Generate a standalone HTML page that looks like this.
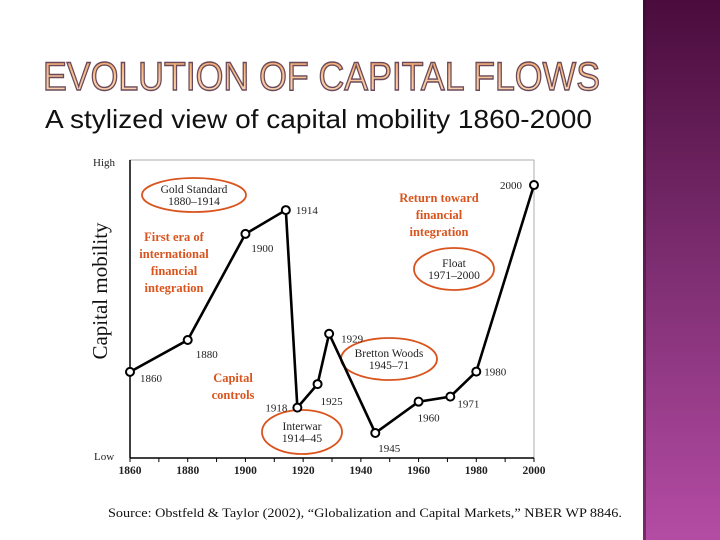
<!DOCTYPE html>
<html><head><meta charset="utf-8"><style>
html,body{margin:0;padding:0;width:720px;height:540px;overflow:hidden;background:#fff}
svg{display:block}
</style></head><body>
<svg id="s" width="720" height="540" xmlns="http://www.w3.org/2000/svg">
<defs>
<linearGradient id="pg" x1="0" y1="0" x2="0" y2="1">
<stop offset="0" stop-color="#4a0c3c"/><stop offset="0.5" stop-color="#7e2e72"/><stop offset="1" stop-color="#b44ca4"/>
</linearGradient>
<linearGradient id="tg" x1="0" y1="0" x2="0" y2="1">
<stop offset="0" stop-color="#f0a060"/><stop offset="0.5" stop-color="#f8c496"/><stop offset="1" stop-color="#fcdcc0"/>
</linearGradient>
</defs>
<rect x="643" y="0" width="77" height="540" fill="url(#pg)"/>
<rect x="643" y="0" width="3" height="540" fill="#3a0a30" opacity="0.5"/>
<text x="43" y="90" font-family="Liberation Sans, sans-serif" font-size="40" textLength="557" lengthAdjust="spacingAndGlyphs" fill="url(#tg)" stroke="#6a4a5a" stroke-width="1.4">EVOLUTION OF CAPITAL FLOWS</text>
<text x="45" y="128" font-family="Liberation Sans, sans-serif" font-size="26" textLength="547" lengthAdjust="spacingAndGlyphs" fill="#111">A stylized view of capital mobility 1860-2000</text>
<g id="chart" font-family="Liberation Serif, serif"></g>
<text x="108" y="517" font-family="Liberation Serif, serif" font-size="12.5" textLength="514" lengthAdjust="spacingAndGlyphs" fill="#111">Source:  Obstfeld  &amp; Taylor (2002), “Globalization and Capital Markets,” NBER WP 8846.</text>
</svg>
<script>
const years = [1860,1880,1900,1914,1918,1925,1929,1945,1960,1971,1980,2000];
const mobility = [28.9,39.6,75.2,83.2,16.9,24.8,41.7,8.4,18.9,20.6,29,91.6];
const xTicks = [1860,1880,1900,1920,1940,1960,1980,2000];
const labelDx = [10,8,6,10,-10,3,12,3,-1,7,8,-12];
const labelDy = [10,18,18,4,4,21,9,19,20,11,4,4];
const labelAnchor = ['start','start','start','start','end','start','start','start','start','start','start','end'];

const L=130,R=534,T=160,B=458;
const xs=y=>L+(y-1860)/(2000-1860)*(R-L);
const ys=v=>B-v/100*(B-T);
const g=document.getElementById('chart');
const NS='http://www.w3.org/2000/svg';
function mk(tag,attrs,txt){const e=document.createElementNS(NS,tag);for(const k in attrs)e.setAttribute(k,attrs[k]);if(txt!==undefined)e.textContent=txt;g.appendChild(e);return e;}

let e=mk('rect',{x:L,y:T,width:R-L,height:B-T,fill:'none',stroke:'#999','stroke-width':0.8});


e=mk('line',{x1:L,y1:B,x2:R,y2:B,stroke:'#000','stroke-width':1.5});


e=mk('line',{x1:L,y1:T,x2:L,y2:B,stroke:'#000','stroke-width':1.5});


for(let y=1860;y<=2000;y+=10){
  e=mk('line',{x1:xs(y),y1:B,x2:xs(y),y2:B+4,stroke:'#000','stroke-width':1});
  
  
}
xTicks.forEach(t=>{
  e=mk('text',{x:xs(t),y:B+16,'font-size':11.5,'font-weight':'bold','text-anchor':'middle',fill:'#222'},String(t));
  
  
});
e=mk('text',{x:93,y:166,'font-size':11,fill:'#222'},'High');


e=mk('text',{x:94,y:460,'font-size':11,fill:'#222'},'Low');


e=mk('text',{x:107,y:291,'font-size':21,'text-anchor':'middle',fill:'#111',transform:'rotate(-90 107 291)'},'Capital  mobility');



const ell=[['gold-standard-ellipse',194,195,52,17,['Gold Standard','1880–1914']],
 ['float-ellipse',454,269,40,21,['Float','1971–2000']],
 ['bretton-woods-ellipse',389,359,48,21,['Bretton Woods','1945–71']],
 ['interwar-ellipse',302,432,40,22,['Interwar','1914–45']]];
ell.forEach(a=>{
  e=mk('ellipse',{cx:a[1],cy:a[2],rx:a[3],ry:a[4],fill:'none',stroke:'#d9541e','stroke-width':1.8});
  
  
  a[5].forEach((t,i)=>{
    e=mk('text',{x:a[1],y:a[2]-2+i*12,'font-size':11.5,'text-anchor':'middle',fill:'#222'},t);
    
    
  });
});
const notes=[[174,241,['First era of','international','financial','integration']],[233,382,['Capital','controls']],[439,202,['Return toward','financial','integration']]];
notes.forEach(n=>n[2].forEach((t,i)=>{
  e=mk('text',{x:n[0],y:n[1]+i*17,'font-size':12.5,'font-weight':'bold','text-anchor':'middle',fill:'#d9541e'},t);
  
  
}));

const pts=years.map((y,i)=>xs(y)+','+ys(mobility[i])).join(' ');
e=mk('polyline',{points:pts,fill:'none',stroke:'#000','stroke-width':2.6,'stroke-linejoin':'miter'});


years.forEach((y,i)=>{
  const cx=xs(y),cy=ys(mobility[i]);
  e=mk('circle',{cx:cx,cy:cy,r:4,fill:'#fff',stroke:'#000','stroke-width':2});
  
  
  e=mk('text',{x:cx+labelDx[i],y:cy+labelDy[i],'font-size':11,'text-anchor':labelAnchor[i],fill:'#222'},String(y));
  
  
});
</script>
</body></html>
